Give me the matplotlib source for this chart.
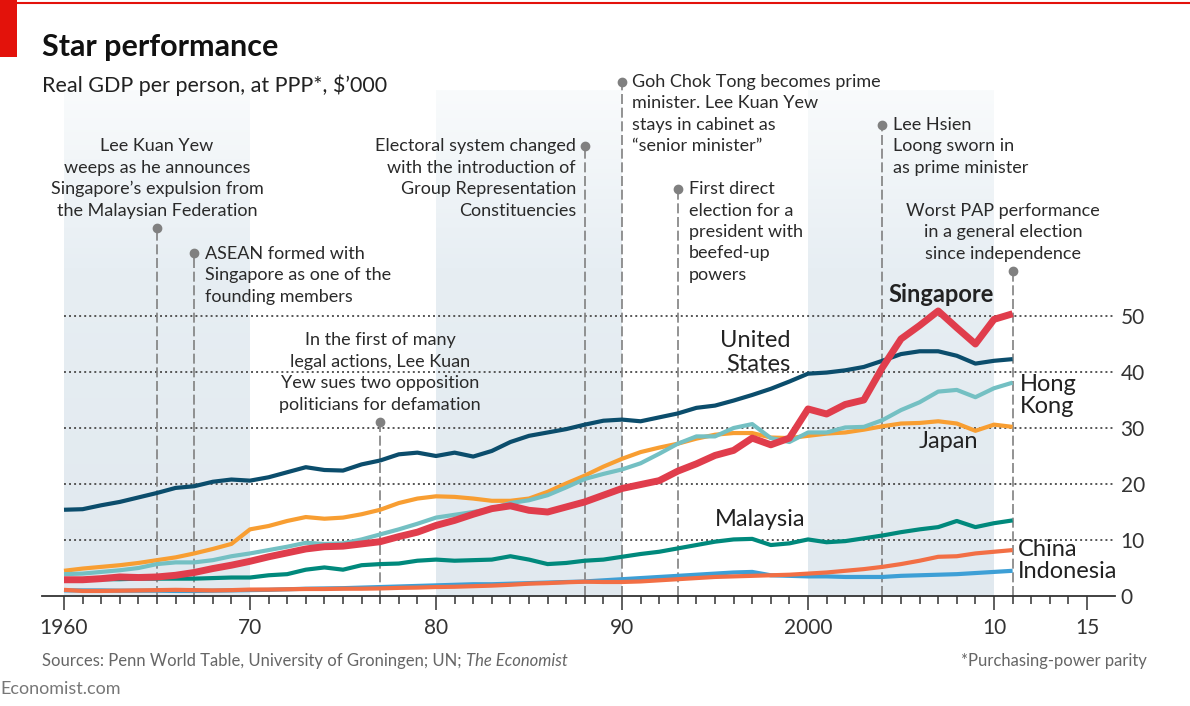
import numpy as np
import matplotlib
matplotlib.use("Agg")
import matplotlib.pyplot as plt
from matplotlib.colors import LinearSegmentedColormap
from matplotlib.patches import Rectangle
from matplotlib.lines import Line2D

plt.rcParams['font.family'] = ['Lato', 'DejaVu Sans']

# ---- data: real GDP per person at PPP, $'000, 1960-2011 ----
years = list(range(1960, 2012))

singapore = [2.9, 2.9, 3.1, 3.4, 3.3, 3.4, 3.7, 4.2, 4.9, 5.5,
             6.2, 7.0, 7.7, 8.4, 8.8, 8.9, 9.3, 9.7, 10.6, 11.4,
             12.6, 13.5, 14.6, 15.6, 16.1, 15.3, 15.0, 15.9, 16.8, 18.0,
             19.2, 19.9, 20.6, 22.3, 23.6, 25.1, 26.0, 28.2, 27.0, 28.2,
             33.4, 32.5, 34.2, 35.0, 40.8, 45.9, 48.3, 50.9, 47.9, 45.0,
             49.4, 50.4]
united_states = [15.4, 15.5, 16.2, 16.8, 17.6, 18.4, 19.3, 19.6, 20.4, 20.8,
                 20.6, 21.2, 22.1, 23.0, 22.5, 22.4, 23.5, 24.2, 25.3, 25.6,
                 25.0, 25.6, 24.9, 25.9, 27.5, 28.6, 29.2, 29.8, 30.6, 31.3,
                 31.5, 31.2, 31.9, 32.6, 33.6, 34.0, 34.9, 35.9, 37.0, 38.3,
                 39.7, 39.9, 40.3, 40.9, 42.0, 43.2, 43.7, 43.7, 42.9, 41.5,
                 42.0, 42.3]
hong_kong = [3.9, 4.0, 4.3, 4.6, 5.0, 5.7, 6.0, 6.0, 6.4, 7.1,
             7.6, 8.2, 8.8, 9.5, 9.3, 9.4, 10.1, 11.0, 11.9, 12.9,
             14.0, 14.5, 15.0, 15.6, 16.6, 17.1, 18.0, 19.4, 20.9, 21.8,
             22.6, 23.7, 25.4, 27.2, 28.5, 28.5, 30.0, 30.7, 28.2, 27.5,
             29.2, 29.2, 30.1, 30.2, 31.4, 33.2, 34.6, 36.5, 36.8, 35.5,
             37.1, 38.1]
japan = [4.5, 4.9, 5.2, 5.5, 5.9, 6.4, 6.9, 7.6, 8.4, 9.3,
         11.9, 12.5, 13.4, 14.1, 13.8, 14.0, 14.6, 15.4, 16.6, 17.4,
         17.8, 17.7, 17.4, 17.0, 17.0, 17.4, 18.6, 20.1, 21.5, 23.1,
         24.5, 25.7, 26.5, 27.2, 28.1, 28.8, 29.1, 29.1, 28.3, 28.2,
         28.6, 29.0, 29.2, 29.7, 30.3, 30.8, 30.9, 31.2, 30.8, 29.5,
         30.6, 30.2]
malaysia = [2.9, 2.9, 3.0, 3.0, 3.1, 3.1, 3.1, 3.1, 3.2, 3.3,
            3.3, 3.7, 3.9, 4.7, 5.1, 4.7, 5.5, 5.7, 5.8, 6.3,
            6.5, 6.3, 6.4, 6.5, 7.1, 6.5, 5.7, 5.9, 6.3, 6.5,
            7.0, 7.5, 7.9, 8.5, 9.1, 9.7, 10.1, 10.2, 9.1, 9.4,
            10.1, 9.6, 9.8, 10.3, 10.8, 11.4, 11.9, 12.3, 13.4, 12.3,
            13.0, 13.5]
china = [1.1, 0.9, 0.9, 0.95, 1.0, 1.05, 1.1, 1.05, 1.0, 1.05,
         1.15, 1.15, 1.2, 1.25, 1.25, 1.3, 1.3, 1.35, 1.45, 1.5,
         1.6, 1.65, 1.75, 1.85, 2.0, 2.2, 2.3, 2.45, 2.55, 2.5,
         2.5, 2.6, 2.8, 3.0, 3.2, 3.4, 3.5, 3.6, 3.7, 3.8,
         4.0, 4.2, 4.5, 4.8, 5.2, 5.7, 6.3, 7.0, 7.1, 7.6,
         7.9, 8.2]
indonesia = [1.0, 1.0, 1.0, 0.95, 0.95, 0.95, 0.9, 0.9, 0.95, 1.0,
             1.05, 1.1, 1.2, 1.3, 1.35, 1.4, 1.5, 1.6, 1.7, 1.8,
             1.9, 2.0, 2.1, 2.1, 2.2, 2.3, 2.4, 2.5, 2.6, 2.8,
             3.0, 3.2, 3.4, 3.6, 3.8, 4.0, 4.2, 4.3, 3.7, 3.6,
             3.5, 3.5, 3.4, 3.4, 3.4, 3.6, 3.7, 3.8, 3.9, 4.1,
             4.3, 4.5]

event_years = [1965, 1967, 1977, 1988, 1990, 1993, 2004, 2011]
event_texts = [
    "Lee Kuan Yew\nweeps as he announces\nSingapore\u2019s expulsion from\nthe Malaysian Federation",
    "ASEAN formed with\nSingapore as one of the\nfounding members",
    "In the first of many\nlegal actions, Lee Kuan\nYew sues two opposition\npoliticians for defamation",
    "Electoral system changed\nwith the introduction of\nGroup Representation\nConstituencies",
    "Goh Chok Tong becomes prime\nminister. Lee Kuan Yew\nstays in cabinet as\n\u201csenior minister\u201d",
    "First direct\nelection for a\npresident with\nbeefed-up\npowers",
    "Lee Hsien\nLoong sworn in\nas prime minister",
    "Worst PAP performance\nin a general election\nsince independence",
]
shaded_decades = [(1960, 1970), (1980, 1990), (2000, 2010)]


# ---- layout helpers (pixel -> data) ----
def px(p):
    return 1960 + (p - 64) / 18.6


def py(p):
    return (596 - p) / 5.6


fig = plt.figure(figsize=(11.9, 7.06), dpi=100)
ax = fig.add_axes([42 / 1190, 110 / 706, (1115 - 42) / 1190, (596 - 90) / 706])
ytop = py(90)

# shaded decades with a soft vertical fade
cmap = LinearSegmentedColormap.from_list(
    "band", [(0, "#e1e9ef"), (0.65, "#e7eef3"), (1, "#f9fbfc")])
grad = np.linspace(0, 1, 256).reshape(-1, 1)
for a, b in shaded_decades:
    ax.imshow(grad, extent=[a, b, 0, ytop], origin="lower", cmap=cmap,
              aspect="auto", zorder=0)

ax.set_xlim(px(42), px(1115))
ax.set_ylim(0, ytop)

# dotted gridlines
for v in [10, 20, 30, 40, 50]:
    ax.plot([1960, px(1113)], [v, v], color="#555555", lw=1.4,
            ls=(0, (1, 1.6)), zorder=1)

# event markers
event_tops = [py(228), py(253), py(422), py(146), py(82), py(189), py(125), py(271)]
for yr, top in zip(event_years, event_tops):
    ax.plot([yr, yr], [0, top], color="#808080", lw=1.2, ls=(0, (6, 2.2)),
            zorder=2, clip_on=False)
    ax.plot(yr, top, "o", ms=6, color="#808080", zorder=2, clip_on=False)

# event texts: (x, y, ha)
txt_pos = [(px(157), py(178.5), "center"),
           (px(205), py(275.5), "left"),
           (px(380), py(372.5), "center"),
           (px(576), py(178.5), "right"),
           (px(632), py(114), "left"),
           (px(689), py(232), "left"),
           (px(893), py(146.5), "left"),
           (px(1003), py(232.5), "center")]
for t, (x, y, ha) in zip(event_texts, txt_pos):
    ax.text(x, y, t, ha=ha, va="center", multialignment=ha, fontsize=13,
            color="#2a2a2a", linespacing=1.42, clip_on=False, zorder=5)

# series
series = [
    (indonesia, "#3d9fd6", 3.0),
    (china, "#f26f45", 3.0),
    (malaysia, "#00897c", 3.0),
    (japan, "#f89e32", 3.0),
    (hong_kong, "#74c0c3", 3.0),
    (united_states, "#0b4d6c", 3.0),
    (singapore, "#e03d4c", 5.0),
]
for i, (vals, col, lw) in enumerate(series):
    ax.plot(years, vals, color=col, lw=lw, zorder=3 + i * 0.1,
            solid_capstyle="butt", solid_joinstyle="round")

# series labels
lab = dict(fontsize=17, color="#222222", zorder=6)
ax.text(px(941), py(295), "Singapore", ha="center", va="center",
        fontweight="bold", **lab)
ax.text(px(790), py(352.5), "United\nStates", ha="right", va="center",
        multialignment="right", linespacing=1.15, **lab)
ax.text(px(1020), py(395.5), "Hong\nKong", ha="left", va="center",
        linespacing=1.1, clip_on=False, **lab)
ax.text(px(948), py(442), "Japan", ha="center", va="center", **lab)
ax.text(px(760), py(520), "Malaysia", ha="center", va="center", **lab)
ax.text(px(1018), py(550), "China", ha="left", va="center", clip_on=False, **lab)
ax.text(px(1018), py(572), "Indonesia", ha="left", va="center", clip_on=False, **lab)

# axes styling
for s in ["top", "left", "right"]:
    ax.spines[s].set_visible(False)
ax.spines["bottom"].set_color("#333333")
ax.spines["bottom"].set_linewidth(1.3)

ax.set_xticks([1960, 1970, 1980, 1990, 2000, 2010, 2015])
ax.set_xticklabels(["1960", "70", "80", "90", "2000", "10", "15"])
ax.set_xticks(range(1960, 2016), minor=True)
ax.tick_params(axis="x", which="major", length=10, width=1.1, color="#333333",
               pad=6, labelsize=15, labelcolor="#333333")
ax.tick_params(axis="x", which="minor", length=6, width=1.1, color="#333333")

ax.yaxis.tick_right()
ax.set_yticks([0, 10, 20, 30, 40, 50])
ax.tick_params(axis="y", length=0, pad=4, labelsize=15, labelcolor="#333333")

# header
fig.add_artist(Rectangle((0, 1 - 57 / 706), 17 / 1190, 57 / 706,
                         transform=fig.transFigure, color="#e3120b", lw=0))
fig.add_artist(Line2D([17 / 1190, 1], [1 - 3 / 706, 1 - 3 / 706],
                      transform=fig.transFigure, color="#e3120b", lw=1.5))
fig.text(42 / 1190, 1 - 56 / 706, "Star performance", fontsize=22,
         fontweight="bold", color="#111111", va="baseline")
fig.text(42 / 1190, 1 - 92 / 706, "Real GDP per person, at PPP*, $\u2019000",
         fontsize=15.5, color="#222222", va="baseline")

# footer
src = fig.text(42 / 1190, 1 - 666 / 706,
               "Sources: Penn World Table, University of Groningen; UN; ",
               fontsize=12, color="#666666", va="baseline")
fig.canvas.draw()
bb = src.get_window_extent(fig.canvas.get_renderer())
fig.text(bb.x1 / fig.bbox.width, 1 - 666 / 706, "The Economist", fontsize=12,
         color="#666666", va="baseline", style="italic")
fig.text(1147 / 1190, 1 - 666 / 706, "*Purchasing-power parity", fontsize=12,
         color="#666666", va="baseline", ha="right")
fig.text(0, 1 - 694 / 706, "Economist.com", fontsize=13, color="#777777",
         va="baseline")

fig.savefig("out.png", dpi=100)
